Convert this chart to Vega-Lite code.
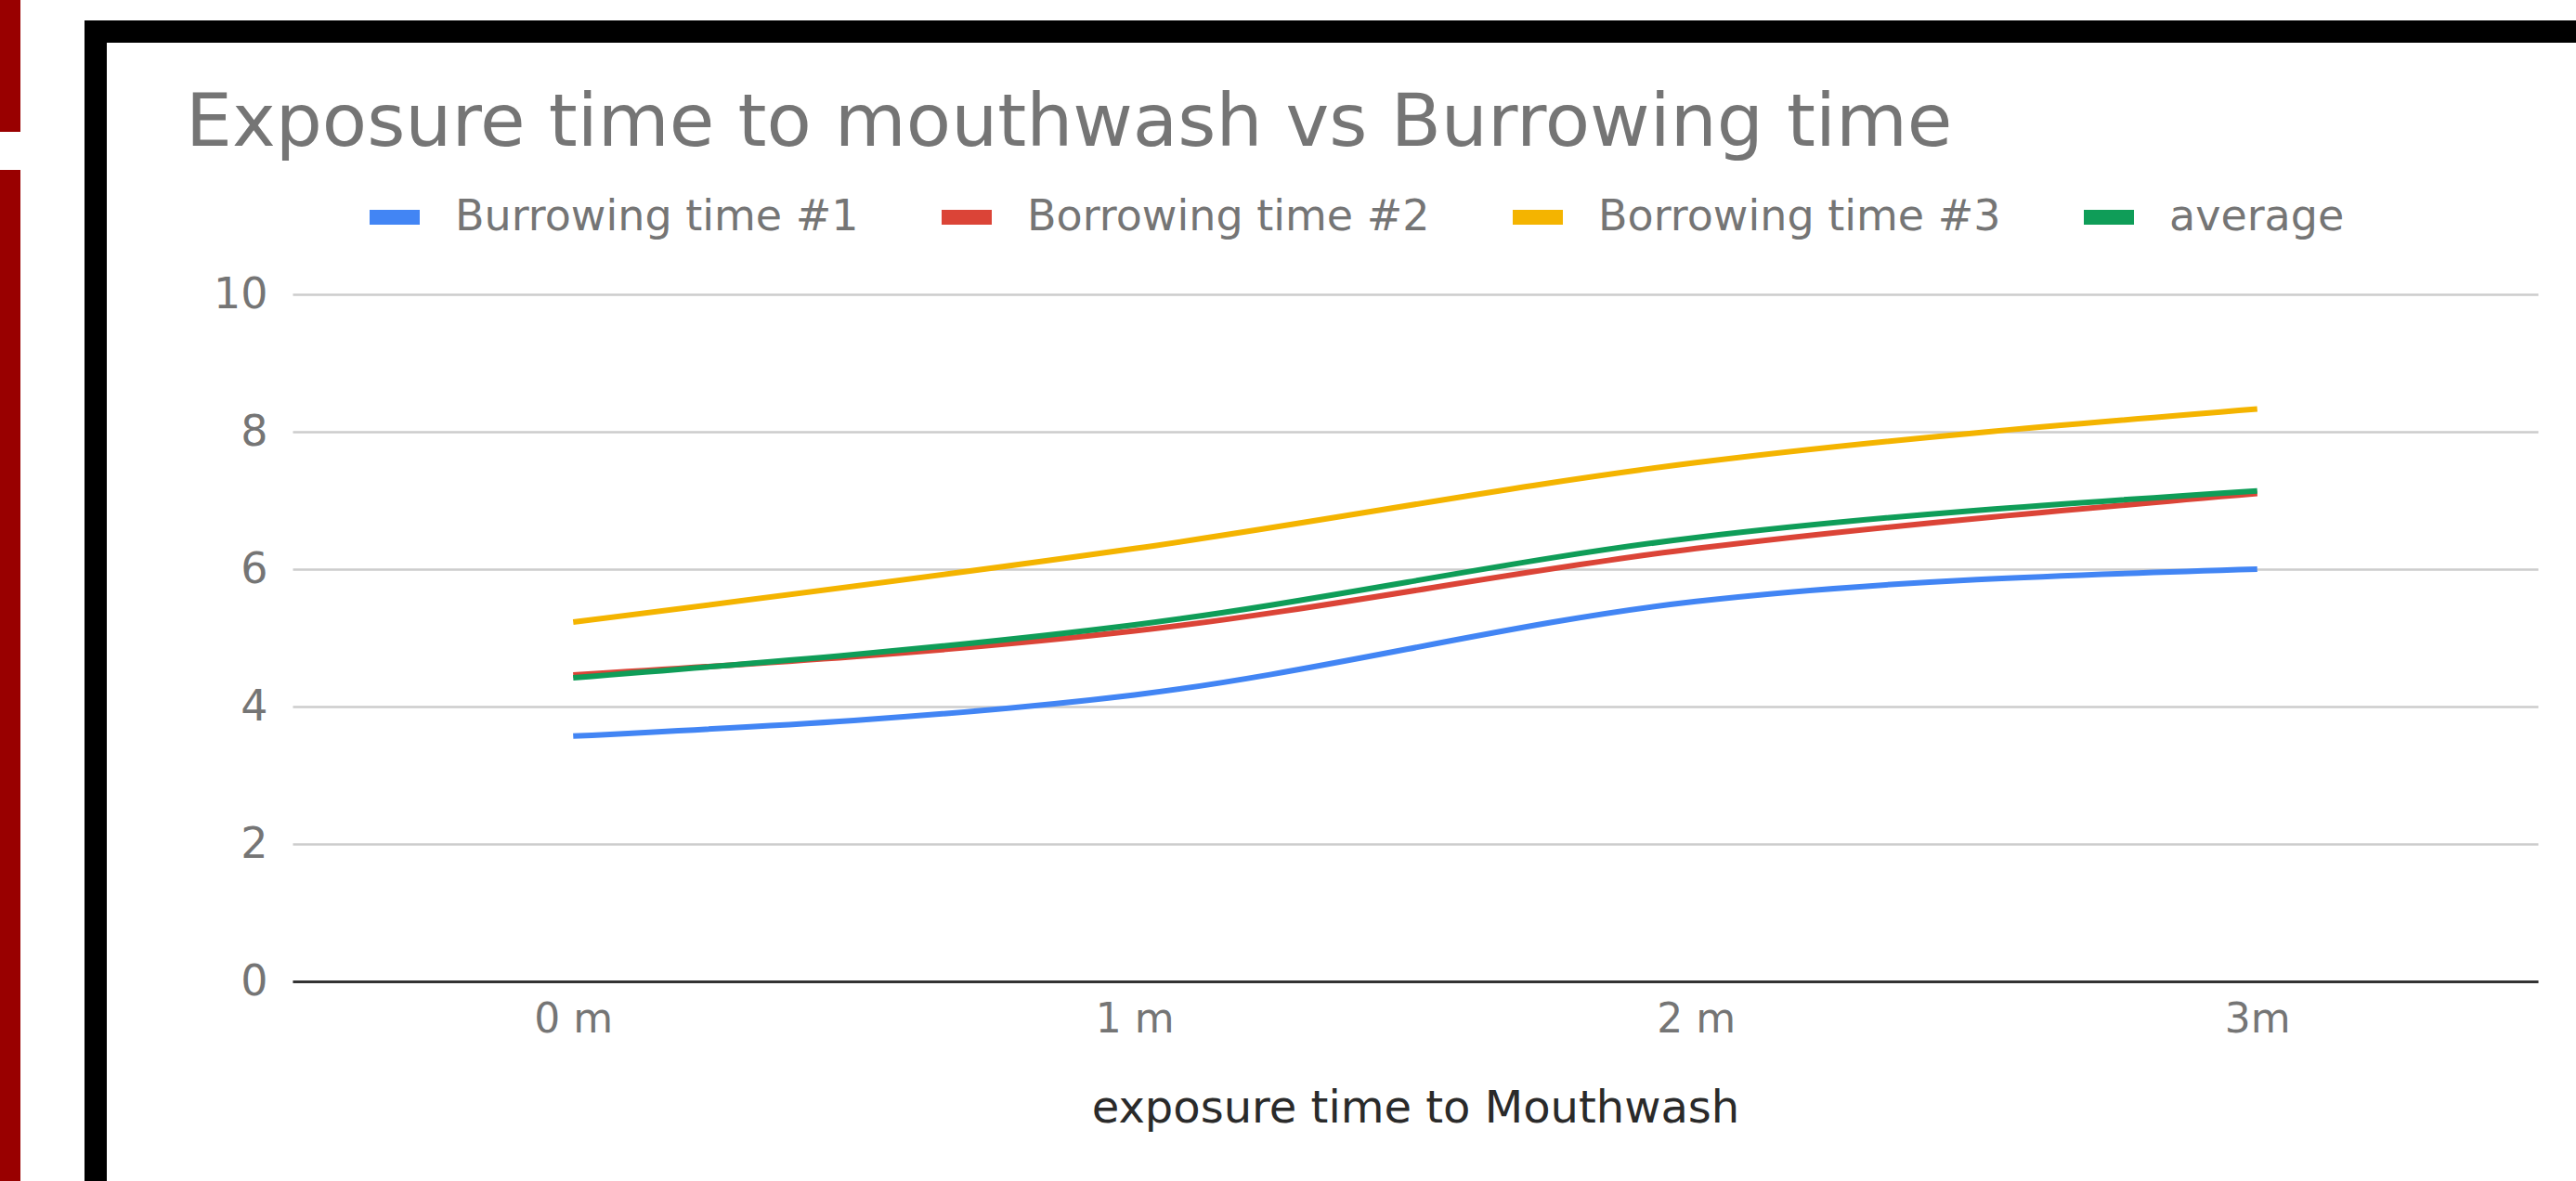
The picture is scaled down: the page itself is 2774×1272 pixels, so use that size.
{
  "$schema": "https://vega.github.io/schema/vega-lite/v6.json",
  "padding": 0,
  "spacing": 69,
  "background": "white",
  "config": {
    "view": {"stroke": null},
    "font": "DejaVu Sans"
  },
  "hconcat": [
    {
      "spacing": 41,
      "vconcat": [
        {"width": 22, "height": 142, "data": {"values": []}, "mark": "rect", "encoding": {}, "view": {"fill": "#990000", "stroke": null}},
        {"width": 22, "height": 1089, "data": {"values": []}, "mark": "rect", "encoding": {}, "view": {"fill": "#990000", "stroke": null}}
      ]
    },
    {
      "spacing": 0,
      "vconcat": [
        {"width": 2683, "height": 22, "data": {"values": []}, "mark": "rect", "encoding": {}, "view": {"stroke": null}},
        {"width": 2683, "height": 24, "data": {"values": []}, "mark": "rect", "encoding": {}, "view": {"fill": "#000000", "stroke": null}},
        {
          "spacing": 0,
          "hconcat": [
            {"width": 24, "height": 1226, "data": {"values": []}, "mark": "rect", "encoding": {}, "view": {"fill": "#000000", "stroke": null}},
            {
              "width": 2659,
              "height": 1226,
              "view": {"fill": "white", "stroke": null},
              "title": {
                "text": "Exposure time to mouthwash vs Burrowing time",
                "anchor": "start",
                "frame": "group",
                "orient": "top",
                "offset": 0,
                "dx": 85,
                "dy": 190,
                "baseline": "alphabetic",
                "fontSize": 79,
                "fontWeight": "normal",
                "color": "#757575",
                "font": "DejaVu Sans"
              },
              "data": {
                "values": [
                  {"t": "0 m", "series": "Burrowing time #1", "v": 3.57},
                  {"t": "1 m", "series": "Burrowing time #1", "v": 4.17},
                  {"t": "2 m", "series": "Burrowing time #1", "v": 5.53},
                  {"t": "3m", "series": "Burrowing time #1", "v": 6.0},
                  {"t": "0 m", "series": "Borrowing time #2", "v": 4.46},
                  {"t": "1 m", "series": "Borrowing time #2", "v": 5.1},
                  {"t": "2 m", "series": "Borrowing time #2", "v": 6.3},
                  {"t": "3m", "series": "Borrowing time #2", "v": 7.1},
                  {"t": "0 m", "series": "Borrowing time #3", "v": 5.23},
                  {"t": "1 m", "series": "Borrowing time #3", "v": 6.3},
                  {"t": "2 m", "series": "Borrowing time #3", "v": 7.55},
                  {"t": "3m", "series": "Borrowing time #3", "v": 8.33},
                  {"t": "0 m", "series": "average", "v": 4.42},
                  {"t": "1 m", "series": "average", "v": 5.19},
                  {"t": "2 m", "series": "average", "v": 6.46},
                  {"t": "3m", "series": "average", "v": 7.14}
                ]
              },
              "mark": {"type": "line", "interpolate": "monotone", "strokeWidth": 6},
              "encoding": {
                "x": {
                  "field": "t",
                  "type": "ordinal",
                  "sort": ["0 m", "1 m", "2 m", "3m"],
                  "scale": {"type": "point", "range": [200, 2618], "padding": 0.5},
                  "axis": {
                    "orient": "bottom",
                    "offset": -215,
                    "grid": false,
                    "ticks": false,
                    "domain": true,
                    "domainColor": "#333333",
                    "domainWidth": 3,
                    "labelAngle": 0,
                    "labelFontSize": 44,
                    "labelColor": "#757575",
                    "labelPadding": 19,
                    "title": "exposure time to Mouthwash",
                    "titleFontSize": 48,
                    "titleFontWeight": "normal",
                    "titleColor": "#2a2a2a",
                    "titlePadding": 50
                  }
                },
                "y": {
                  "field": "v",
                  "type": "quantitative",
                  "scale": {"domain": [0, 10], "range": [1011, 271], "nice": false},
                  "axis": {
                    "orient": "left",
                    "offset": -200,
                    "values": [0, 2, 4, 6, 8, 10],
                    "grid": true,
                    "gridColor": "#cccccc",
                    "gridWidth": 2.5,
                    "domain": false,
                    "ticks": false,
                    "labelFontSize": 46,
                    "labelColor": "#757575",
                    "labelPadding": 27,
                    "title": null
                  }
                },
                "color": {
                  "field": "series",
                  "type": "nominal",
                  "sort": ["Burrowing time #1", "Borrowing time #2", "Borrowing time #3", "average"],
                  "scale": {
                    "domain": ["Burrowing time #1", "Borrowing time #2", "Borrowing time #3", "average"],
                    "range": ["#4285F4", "#DB4437", "#F4B400", "#0F9D58"]
                  },
                  "legend": {
                    "orient": "none",
                    "legendX": 390,
                    "legendY": 199,
                    "direction": "horizontal",
                    "title": null,
                    "padding": 0,
                    "symbolType": "stroke",
                    "symbolSize": 2916,
                    "symbolStrokeWidth": 16,
                    "labelOffset": 30,
                    "columnPadding": 57,
                    "labelFontSize": 46,
                    "labelColor": "#757575",
                    "labelLimit": 0
                  }
                }
              }
            }
          ]
        }
      ]
    }
  ]
}
